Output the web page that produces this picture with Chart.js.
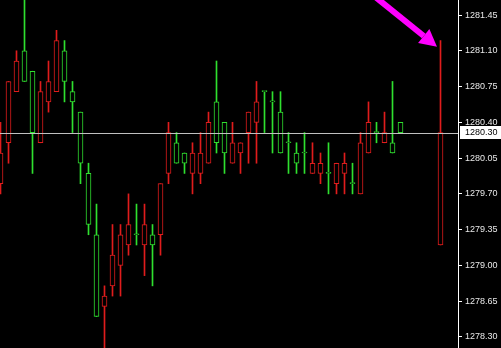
<!DOCTYPE html>
<html lang="en">
<head>
  <meta charset="UTF-8">
  <title>Candles</title>
  <script src="https://cdn.jsdelivr.net/npm/chart.js"></script>
  <style>
    html, body { margin: 0; padding: 0; background: #000; }
    #wrap { width: 501px; height: 348px; position: relative; }
  </style>
</head>
<body>
  <div id="wrap"><canvas id="chartCanvas"></canvas></div>

  <script>
    // OHLC per bar (null = empty slot before the last bar)
    const opens = [1280.10, 1280.80, 1281.00, 1280.80, 1280.30, 1280.70, 1280.80, 1281.20, 1280.80, 1280.60,
      1280.00, 1279.40, 1278.50, 1278.70, 1279.10, 1279.30, 1279.40, 1279.30, 1279.40, 1279.20,
      1279.80, 1280.30, 1280.00, 1280.00, 1280.10, 1280.10, 1280.40, 1280.20, 1280.10, 1280.20,
      1280.20, 1280.50, 1280.60, 1280.70, 1280.60, 1280.10, 1280.20, 1280.00, 1280.10, 1280.00,
      1280.00, 1279.90, 1280.00, 1280.00, 1279.80, 1280.20, 1280.40, 1280.30, 1280.30, 1280.10,
      1280.30, null, null, null, null, 1280.30];
    const highs = [1280.40, 1280.80, 1281.10, 1281.70, 1280.90, 1280.80, 1281.00, 1281.30, 1281.20, 1280.80,
      1280.50, 1280.00, 1279.60, 1278.80, 1279.40, 1279.40, 1279.70, 1279.60, 1279.60, 1279.40,
      1279.80, 1280.40, 1280.30, 1280.10, 1280.20, 1280.30, 1280.50, 1281.00, 1280.40, 1280.40,
      1280.20, 1280.50, 1280.80, 1280.70, 1280.70, 1280.70, 1280.30, 1280.20, 1280.30, 1280.20,
      1280.10, 1280.20, 1280.00, 1280.10, 1280.00, 1280.30, 1280.60, 1280.40, 1280.50, 1280.80,
      1280.40, null, null, null, null, 1281.20];
    const lows = [1279.70, 1280.00, 1280.70, 1280.80, 1279.90, 1280.20, 1280.50, 1280.70, 1280.60, 1280.30,
      1279.80, 1279.30, 1278.50, 1278.10, 1278.70, 1278.70, 1279.10, 1279.20, 1278.90, 1278.80,
      1279.10, 1279.80, 1280.00, 1279.90, 1279.70, 1279.80, 1280.00, 1280.10, 1279.90, 1280.00,
      1279.90, 1280.00, 1280.00, 1280.30, 1280.10, 1280.10, 1279.90, 1279.90, 1279.90, 1279.90,
      1279.80, 1279.70, 1279.70, 1279.70, 1279.70, 1279.70, 1280.10, 1280.20, 1280.20, 1280.10,
      1280.30, null, null, null, null, 1279.20];
    const closes = [1279.80, 1280.20, 1280.70, 1281.10, 1280.90, 1280.20, 1280.60, 1280.70, 1281.10, 1280.70,
      1280.50, 1279.90, 1279.30, 1278.60, 1278.80, 1279.00, 1279.20, 1279.30, 1279.20, 1279.30,
      1279.30, 1279.90, 1280.20, 1280.10, 1279.90, 1279.90, 1280.00, 1280.60, 1280.40, 1280.00,
      1280.10, 1280.30, 1280.40, 1280.70, 1280.60, 1280.50, 1280.20, 1280.10, 1280.10, 1279.90,
      1279.90, 1279.90, 1279.80, 1279.90, 1279.80, 1279.70, 1280.10, 1280.30, 1280.20, 1280.20,
      1280.40, null, null, null, null, 1279.20];

    const priceTicks = [1278.30, 1278.65, 1279.00, 1279.35, 1279.70, 1280.05, 1280.40, 1280.75, 1281.10, 1281.45];
    const bidPrice = 1280.30;

    const bullColor = '#2fe02f';
    const bearColor = '#e01c1c';

    const barColors = opens.map((o, i) => closes[i] >= o ? bullColor : bearColor);
    const wickData = [];
    const bodyData = [];
    opens.forEach((o, i) => {
      if (o === null) return;
      wickData.push({ x: i, y: [lows[i], highs[i]] });
      bodyData.push({ x: i, y: [o, closes[i]] });
    });
    const colorsFor = data => data.map(d => barColors[d.x]);

    // magenta arrow pointing at the last bar (index, price)
    const arrow = { from: [46.8, 1281.63], to: [54.56, 1281.14] };

    const overlay = {
      id: 'overlay',
      afterDatasetsDraw(chart) {
        const { ctx, chartArea, scales } = chart;
        const y = scales.y, x = scales.x;

        // bid line
        const by = Math.round(y.getPixelForValue(bidPrice)) + 0.5;
        ctx.save();
        ctx.strokeStyle = '#c0c0c0';
        ctx.lineWidth = 1;
        ctx.beginPath();
        ctx.moveTo(chartArea.left, by);
        ctx.lineTo(chartArea.right, by);
        ctx.stroke();

        // arrow
        const x0 = x.getPixelForValue(arrow.from[0]), y0 = y.getPixelForValue(arrow.from[1]);
        const x1 = x.getPixelForValue(arrow.to[0]), y1 = y.getPixelForValue(arrow.to[1]);
        const ang = Math.atan2(y1 - y0, x1 - x0);
        const headLen = 17, headW = 9;
        const bx = x1 - headLen * Math.cos(ang), byy = y1 - headLen * Math.sin(ang);
        ctx.strokeStyle = '#ff00ff';
        ctx.fillStyle = '#ff00ff';
        ctx.lineWidth = 6;
        ctx.beginPath();
        ctx.moveTo(x0, y0);
        ctx.lineTo(bx, byy);
        ctx.stroke();
        ctx.beginPath();
        ctx.moveTo(x1, y1);
        ctx.lineTo(bx - headW * Math.sin(ang), byy + headW * Math.cos(ang));
        ctx.lineTo(bx + headW * Math.sin(ang), byy - headW * Math.cos(ang));
        ctx.closePath();
        ctx.fill();
        ctx.restore();
      },
      afterDraw(chart) {
        const { ctx, chartArea, scales } = chart;
        const by = Math.round(scales.y.getPixelForValue(bidPrice));
        ctx.save();
        ctx.fillStyle = '#ffffff';
        ctx.fillRect(chartArea.right + 2, by - 7, chart.width - chartArea.right - 2, 13);
        ctx.fillStyle = '#000000';
        ctx.font = '9px "Liberation Sans", Arial, sans-serif';
        ctx.textBaseline = 'middle';
        ctx.fillText(bidPrice.toFixed(2), chartArea.right + 7, by);
        ctx.restore();
      }
    };

    const ctx = document.getElementById('chartCanvas').getContext('2d');
    new Chart(ctx, {
      type: 'bar',
      data: {
        datasets: [
          {
            data: bodyData,
            backgroundColor: '#000000',
            borderColor: colorsFor(bodyData),
            borderWidth: 1,
            borderSkipped: false,
            barThickness: 5,
            minBarLength: 1,
            grouped: false,
            order: 0
          },
          {
            data: wickData,
            backgroundColor: colorsFor(wickData),
            borderWidth: 0,
            barThickness: 1,
            grouped: false,
            order: 1
          }
        ]
      },
      options: {
        responsive: true,
        maintainAspectRatio: false,
        animation: false,
        layout: { padding: 0 },
        plugins: { legend: { display: false }, tooltip: { enabled: false } },
        scales: {
          x: {
            type: 'linear',
            display: false,
            offset: false,
            min: -0.0625,
            max: 57.1875
          },
          y: {
            type: 'linear',
            position: 'right',
            min: 1278.192,
            max: 1281.597,
            afterBuildTicks: s => { s.ticks = priceTicks.map(v => ({ value: v })); },
            afterFit: s => { s.width = 43; s.paddingTop = 0; s.paddingBottom = 0; },
            grid: { drawOnChartArea: false, drawTicks: true, tickLength: 4, color: '#ffffff' },
            border: { display: true, color: '#ffffff', width: 1 },
            ticks: {
              color: '#e8e8e8',
              padding: 3,
              font: { family: '"Liberation Sans", Arial, sans-serif', size: 9 },
              callback: v => v.toFixed(2)
            }
          }
        }
      },
      plugins: [overlay]
    });
  </script>
</body>
</html>
